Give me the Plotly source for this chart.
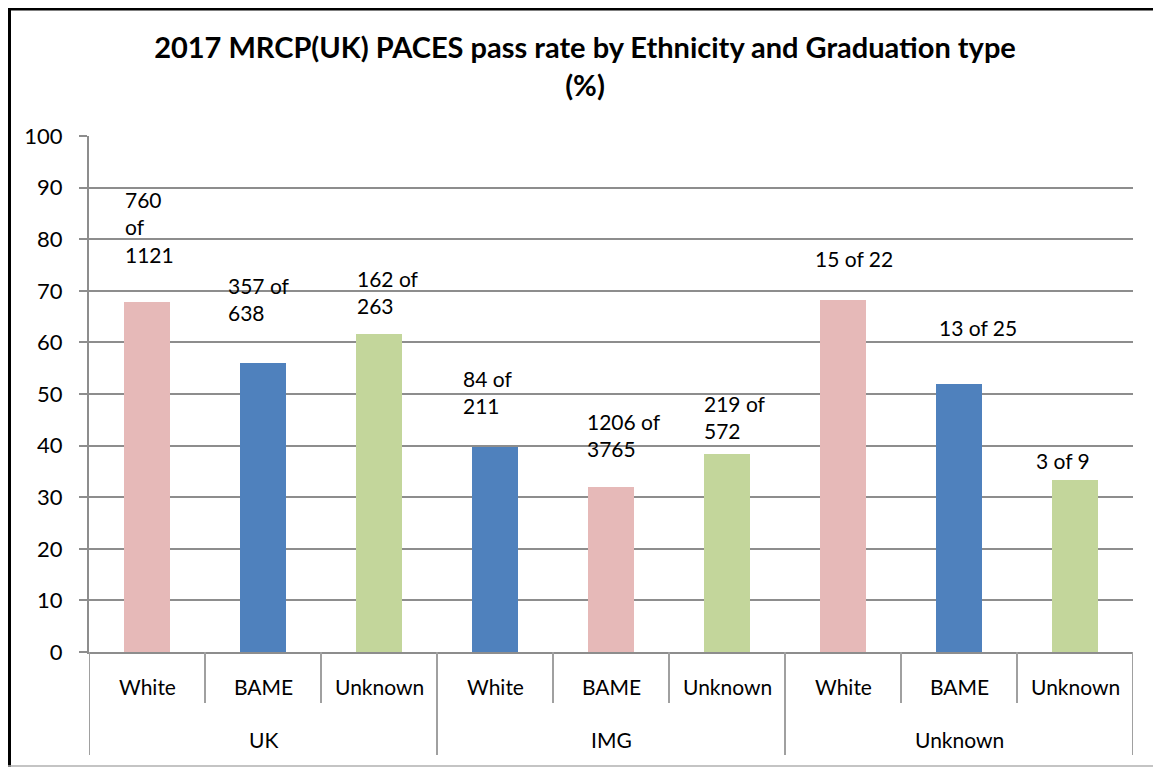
import plotly.graph_objects as go

# ---- data ----
grad_groups = ["UK", "IMG", "Unknown"]
ethnicities = ["White", "BAME", "Unknown"]
pass_rate = [67.8, 56.0, 61.6, 39.8, 32.0, 38.3, 68.2, 52.0, 33.3]
label_texts = ["760<br>of<br>1121", "357 of<br>638", "162 of<br>263",
               "84 of<br>211", "1206 of<br>3765", "219 of<br>572",
               "15 of 22", "13 of 25", "3 of 9"]
y_ticks = [0, 10, 20, 30, 40, 50, 60, 70, 80, 90, 100]

# ---- styles ----
PINK, BLUE, GREEN = "#E6B9B8", "#4F81BD", "#C3D69B"
bar_colors = [PINK, BLUE, GREEN, BLUE, PINK, GREEN, PINK, BLUE, GREEN]
label_xshift = [2.5, -4, 9, -8, 12.5, 7.5, 10.5, 19, -12]
label_yshift = [33, 36, 14, 27, 24, 9, 27, 42, 5]
FONT = "Lato"
GRID = "#8d8d8d"
DIV = "#a0a0a0"

# page has an 8px body margin; work in page pixels and convert
OFF = 8
W, H = 1161 - OFF, 767 - OFF
PL, PR, PT, PB = 89, 1133, 136, 652  # plot area in page pixels
L, T = PL - OFF, PT - OFF
R, B = W - (PR - OFF), H - (PB - OFF)
PW, PH = PR - PL, PB - PT

def px_x(px):
    return (px - PL) / PW

def px_y(py):
    return (PB - py) / PH

n = len(grad_groups) * len(ethnicities)
xs = list(range(n))

fig = go.Figure()
fig.add_trace(go.Bar(
    x=xs, y=pass_rate, width=0.405,
    marker=dict(color=bar_colors, line=dict(width=0)),
    hoverinfo="skip", showlegend=False,
))

annotations = []
for i in xs:
    annotations.append(dict(
        x=i, y=pass_rate[i], xref="x", yref="y", text=label_texts[i],
        showarrow=False, xanchor="center", yanchor="bottom", align="left",
        xshift=label_xshift[i], yshift=label_yshift[i],
        font=dict(family=FONT, size=21, color="black"),
    ))
    annotations.append(dict(
        x=i, y=px_y(686), xref="x", yref="paper",
        text=ethnicities[i % 3], showarrow=False,
        xanchor="center", yanchor="middle",
        font=dict(family=FONT, size=21, color="black"),
    ))
for g, name in enumerate(grad_groups):
    annotations.append(dict(
        x=g * 3 + 1, y=px_y(739), xref="x", yref="paper",
        text=name, showarrow=False, xanchor="center", yanchor="middle",
        font=dict(family=FONT, size=21, color="black"),
    ))

shapes = []
for k in range(n + 1):
    long = (k % 3 == 0)
    shapes.append(dict(
        type="line", xref="x", yref="paper",
        x0=k - 0.5, x1=k - 0.5, y0=0, y1=px_y(755 if long else 703),
        line=dict(color=DIV, width=2),
    ))
# outer frame (kept just inside the figure area)
top_y = OFF + 1.3
left_x = OFF + 1.5
shapes.append(dict(type="line", xref="paper", yref="paper",
                   x0=px_x(OFF), x1=px_x(1161), y0=px_y(top_y), y1=px_y(top_y),
                   line=dict(color="black", width=2.5)))
shapes.append(dict(type="line", xref="paper", yref="paper",
                   x0=px_x(left_x), x1=px_x(left_x), y0=px_y(OFF), y1=px_y(767),
                   line=dict(color="black", width=3)))
shapes.append(dict(type="line", xref="paper", yref="paper",
                   x0=px_x(OFF), x1=px_x(1161), y0=px_y(766), y1=px_y(766),
                   line=dict(color="#b0b0b0", width=1.5)))

fig.update_layout(
    width=W, height=H,
    margin=dict(l=L, r=R, t=T, b=B),
    paper_bgcolor="white", plot_bgcolor="white",
    title=dict(
        text="<b>2017 MRCP(UK) PACES pass rate by Ethnicity and Graduation type<br>(%)</b>",
        x=(585 - OFF) / W, xanchor="center", xref="container",
        y=1 - (67 - OFF - 9) / H, yanchor="middle", yref="container",
        font=dict(family=FONT, size=29, color="black"),
    ),
    xaxis=dict(
        range=[-0.5, n - 0.5], showticklabels=False, ticks="",
        showgrid=False, zeroline=False,
        showline=True, linecolor=GRID, linewidth=2,
    ),
    yaxis=dict(
        range=[0, 100], tickvals=y_ticks, ticktext=[str(v) for v in y_ticks],
        showgrid=True, gridcolor=GRID, gridwidth=2,
        zeroline=False, showline=True, linecolor=GRID, linewidth=2,
        ticks="outside", ticklen=8, tickcolor=GRID, tickwidth=2,
        ticklabelstandoff=12,
        tickfont=dict(family=FONT, size=22, color="black"),
    ),
    annotations=annotations,
    shapes=shapes,
    bargap=0,
)

fig.write_html("out.html")
